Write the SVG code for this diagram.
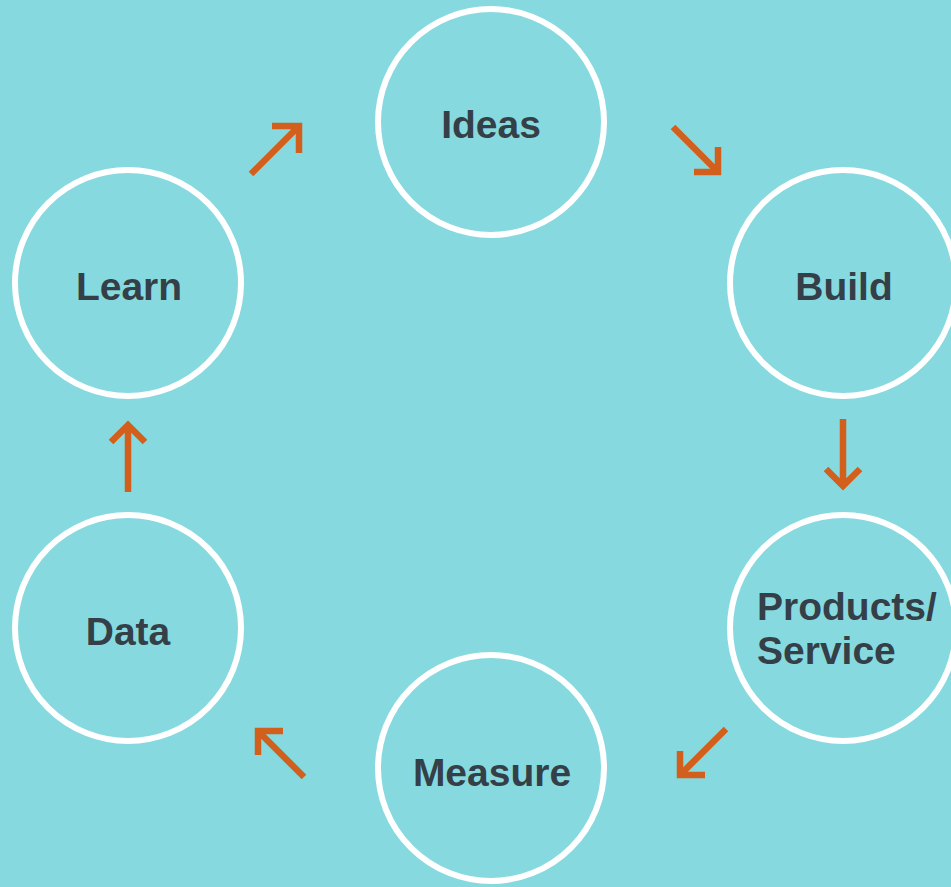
<svg xmlns="http://www.w3.org/2000/svg" width="951" height="887" viewBox="0 0 951 887">
<style>
.node{fill:none;stroke:#ffffff;stroke-width:6}
.lbl{font-family:"Liberation Sans",Arial,sans-serif;font-weight:bold;font-size:39px;fill:#343f48}
.arr{fill:none;stroke:#d25f1c;stroke-width:6.5;stroke-linecap:butt;stroke-linejoin:miter}
</style>
<rect width="951" height="887" fill="#86dadf"/>
<g id="ideas"><circle class="node" cx="491" cy="122" r="113"/><text class="lbl" x="491" y="138" text-anchor="middle">Ideas</text></g>
<g id="build"><circle class="node" cx="843" cy="283" r="113"/><text class="lbl" x="844" y="300" text-anchor="middle">Build</text></g>
<g id="products"><circle class="node" cx="843" cy="628" r="113"/><text class="lbl" x="757" y="620">Products/</text><text class="lbl" x="757" y="664">Service</text></g>
<g id="measure"><circle class="node" cx="491" cy="768" r="113"/><text class="lbl" x="492" y="786" text-anchor="middle">Measure</text></g>
<g id="data"><circle class="node" cx="128" cy="628" r="113"/><text class="lbl" x="128" y="645" text-anchor="middle">Data</text></g>
<g id="learn"><circle class="node" cx="128" cy="283" r="113"/><text class="lbl" x="129" y="300" text-anchor="middle">Learn</text></g>
<g id="connectors">
<path class="arr" d="M251,174 L299,126 M272,126 H299 V153"/>
<path class="arr" d="M673,127 L718,172 M694,172 H718 V147"/>
<path class="arr" d="M843,419 V486 M826,469 L843,486 L860,469"/>
<path class="arr" d="M726,729 L680,775 M680,751 V775 H705"/>
<path class="arr" d="M304,777 L258,731 M258,755 V731 H283"/>
<path class="arr" d="M128,492 V425 M111,442 L128,425 L145,442"/>
</g>
</svg>
